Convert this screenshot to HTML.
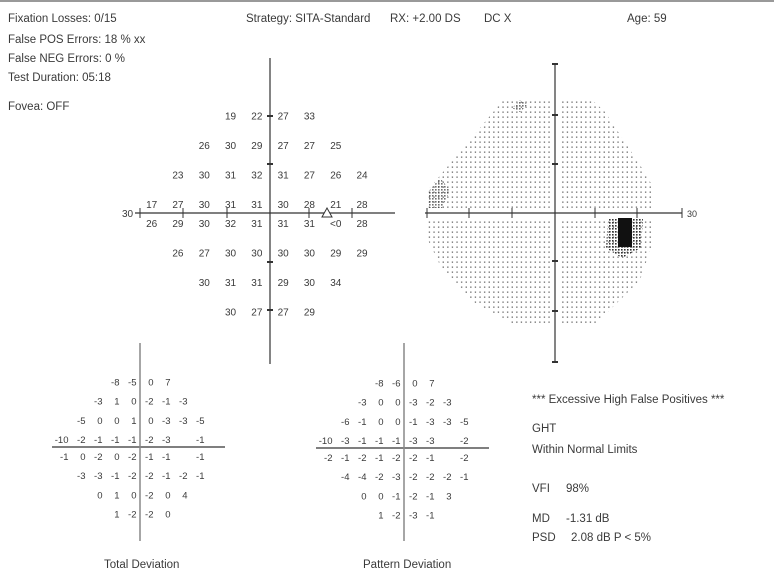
<!DOCTYPE html>
<html><head><meta charset="utf-8">
<style>
html,body{margin:0;padding:0;background:#fff;}
svg{display:block;font-family:"Liberation Sans",sans-serif;}
text{fill:#3a3a3a;}
</style></head>
<body>
<svg id="page" width="774" height="578" viewBox="0 0 774 578">
<rect x="0" y="0" width="774" height="2" fill="#999"/>
<g font-size="11.5">
<text x="8" y="22">Fixation Losses: 0/15</text>
<text x="8" y="43">False POS Errors:  18 % xx</text>
<text x="8" y="62">False NEG Errors:   0 %</text>
<text x="8" y="81">Test Duration: 05:18</text>
<text x="8" y="110">Fovea: OFF</text>
<text x="246" y="22">Strategy: SITA-Standard</text>
<text x="390" y="22">RX: +2.00 DS</text>
<text x="484" y="22">DC  X</text>
<text x="627" y="22">Age: 59</text>
</g>
<g id="thr"></g>
<g id="grey"></g>
<g id="td"></g>
<g id="pd"></g>
<g font-size="11.5">
<text x="532" y="403">*** Excessive High False Positives ***</text>
<text x="532" y="432">GHT</text>
<text x="532" y="453">Within Normal Limits</text>
<text x="532" y="492">VFI</text>
<text x="566" y="492">98%</text>
<text x="532" y="522">MD</text>
<text x="566" y="522">-1.31 dB</text>
<text x="532" y="541">PSD</text>
<text x="571" y="541">2.08 dB  P &lt; 5%</text>
</g>
<text x="104" y="568" font-size="11.5">Total Deviation</text>
<text x="363" y="568" font-size="11.5">Pattern Deviation</text>
</svg>
<script>
const N = null;
const thresholdRows = [
 [N,N,N,19,22,27,33,N,N],
 [N,N,26,30,29,27,27,25,N],
 [N,23,30,31,32,31,27,26,24],
 [17,27,30,31,31,30,28,21,28],
 [26,29,30,32,31,31,31,"<0",28],
 [N,26,27,30,30,30,30,29,29],
 [N,N,30,31,31,29,30,34,N],
 [N,N,N,30,27,27,29,N,N]
];
const totalDevRows = [
 [N,N,N,-8,-5,0,7,N,N],
 [N,N,-3,1,0,-2,-1,-3,N],
 [N,-5,0,0,1,0,-3,-3,-5],
 [-10,-2,-1,-1,-1,-2,-3,N,-1],
 [-1,0,-2,0,-2,-1,-1,N,-1],
 [N,-3,-3,-1,-2,-2,-1,-2,-1],
 [N,N,0,1,0,-2,0,4,N],
 [N,N,N,1,-2,-2,0,N,N]
];
const patternDevRows = [
 [N,N,N,-8,-6,0,7,N,N],
 [N,N,-3,0,0,-3,-2,-3,N],
 [N,-6,-1,0,0,-1,-3,-3,-5],
 [-10,-3,-1,-1,-1,-3,-3,N,-2],
 [-2,-1,-2,-1,-2,-2,-1,N,-2],
 [N,-4,-4,-2,-3,-2,-2,-2,-1],
 [N,N,0,0,-1,-2,-1,3,N],
 [N,N,N,1,-2,-3,-1,N,N]
];
const NS = "http://www.w3.org/2000/svg";
function mk(parent, tag, attrs){
  const e = document.createElementNS(NS, tag);
  for (const k in attrs) e.setAttribute(k, attrs[k]);
  parent.appendChild(e); return e;
}
function line(p,x1,y1,x2,y2,w,c){
  const l = mk(p,"line",{x1:x1,y1:y1,x2:x2,y2:y2,stroke:c||"#444","stroke-width":w||1});
  
  
  return l;
}
function colX(cx, sp, i){ return cx + (i - 4.5) * sp; }
function rowY(cy, sp, gap, r){
  const k = r - 3.5; const s = k < 0 ? -1 : 1;
  return cy + s * (gap + (Math.abs(k) - 0.5) * sp);
}
function drawGrid(g, rows, cx, cy, csp, rsp, gap, fs, anchorOff, name){
  rows.forEach((row, r) => {
    row.forEach((v, i) => {
      if (v === null) return;
      const t = mk(g, "text", {x: colX(cx,csp,i) + anchorOff, y: rowY(cy,rsp,gap,r) + 4, "font-size": fs, "text-anchor": anchorOff ? "end" : "middle"});
      t.textContent = v;
      
      
    });
  });
}
// Threshold plot
const thr = document.getElementById("thr");
line(thr,135,213,395,213,1.2,"#333");
line(thr,270,58,270,364,1.2,"#333");
[140,183,227,309,352].forEach(x=>line(thr,x,208,x,218,1,"#333"));
[116,164,262,310].forEach(y=>line(thr,267,y,273,y,2,"#333"));
{const t=mk(thr,"text",{x:122,y:217,"font-size":10});t.textContent="30";
}
drawGrid(thr, thresholdRows, 270, 213.5, 26.3, 29.5, 9.5, 10, 0, "threshold-value");
{const tri=mk(thr,"path",{d:"M322 217 L327 208 L332 217 Z",fill:"#fff",stroke:"#333"});
}
// Greyscale
const grey = document.getElementById("grey");
const defs = mk(grey,"defs",{});
const pat = mk(defs,"pattern",{id:"dots",width:4.6,height:5,patternUnits:"userSpaceOnUse"});
mk(pat,"rect",{x:1,y:1.5,width:1.3,height:1.3,fill:"#666"});
const pat2 = mk(defs,"pattern",{id:"dots2",width:3,height:3,patternUnits:"userSpaceOnUse"});
mk(pat2,"rect",{x:0,y:0,width:1.6,height:1.6,fill:"#333"});
const shape = mk(grey,"path",{d:"M428 190 L505 98 L590 98 L605 112 L640 165 L652 185 L652 245 L640 280 L620 300 L595 325 L515 325 L470 300 L440 265 L428 240 Z",fill:"url(#dots)"});

const dark1 = mk(grey,"path",{d:"M608 218 L643 218 L641 248 L622 258 L606 248 Z",fill:"url(#dots2)"});

const dark2 = mk(grey,"rect",{x:618,y:217,width:14,height:30,fill:"#111"});

const dark3 = mk(grey,"path",{d:"M428 192 L440 178 L450 190 L442 208 L428 208 Z",fill:"url(#dots2)",opacity:0.7});

const dark4 = mk(grey,"path",{d:"M512 108 L520 100 L528 104 L520 112 Z",fill:"url(#dots2)",opacity:0.7});

mk(grey,"rect",{x:551,y:96,width:8,height:232,fill:"#fff"});
mk(grey,"rect",{x:420,y:208,width:265,height:10,fill:"#fff"});
line(grey,425,213,682,213,1.2,"#333");
line(grey,555,63,555,363,1.2,"#333");
[469,512,595,637].forEach(x=>line(grey,x,208,x,218,1,"#333"));
[115,164,261,311].forEach(y=>line(grey,552,y,558,y,2,"#333"));
line(grey,427,208,427,218,1,"#333");line(grey,682,208,682,218,1,"#333");
line(grey,552,64,558,64,2,"#333");line(grey,552,362,558,362,2,"#333");
{const t=mk(grey,"text",{x:687,y:217,"font-size":9});t.textContent="30";
}
// Total deviation
const td = document.getElementById("td");
line(td,52,447,225,447,1.5,"#555");
line(td,140,343,140,541,1.5,"#888");
drawGrid(td, totalDevRows, 140, 447.5, 17, 19.2, 8.5, 9.5, 5, "total-deviation-value");
// Pattern deviation
const pd = document.getElementById("pd");
line(pd,316,448,489,448,1.5,"#555");
line(pd,404,343,404,541,1.5,"#888");
drawGrid(pd, patternDevRows, 404, 448.5, 17, 19.2, 8.5, 9.5, 5, "pattern-deviation-value");
</script>
</body></html>
